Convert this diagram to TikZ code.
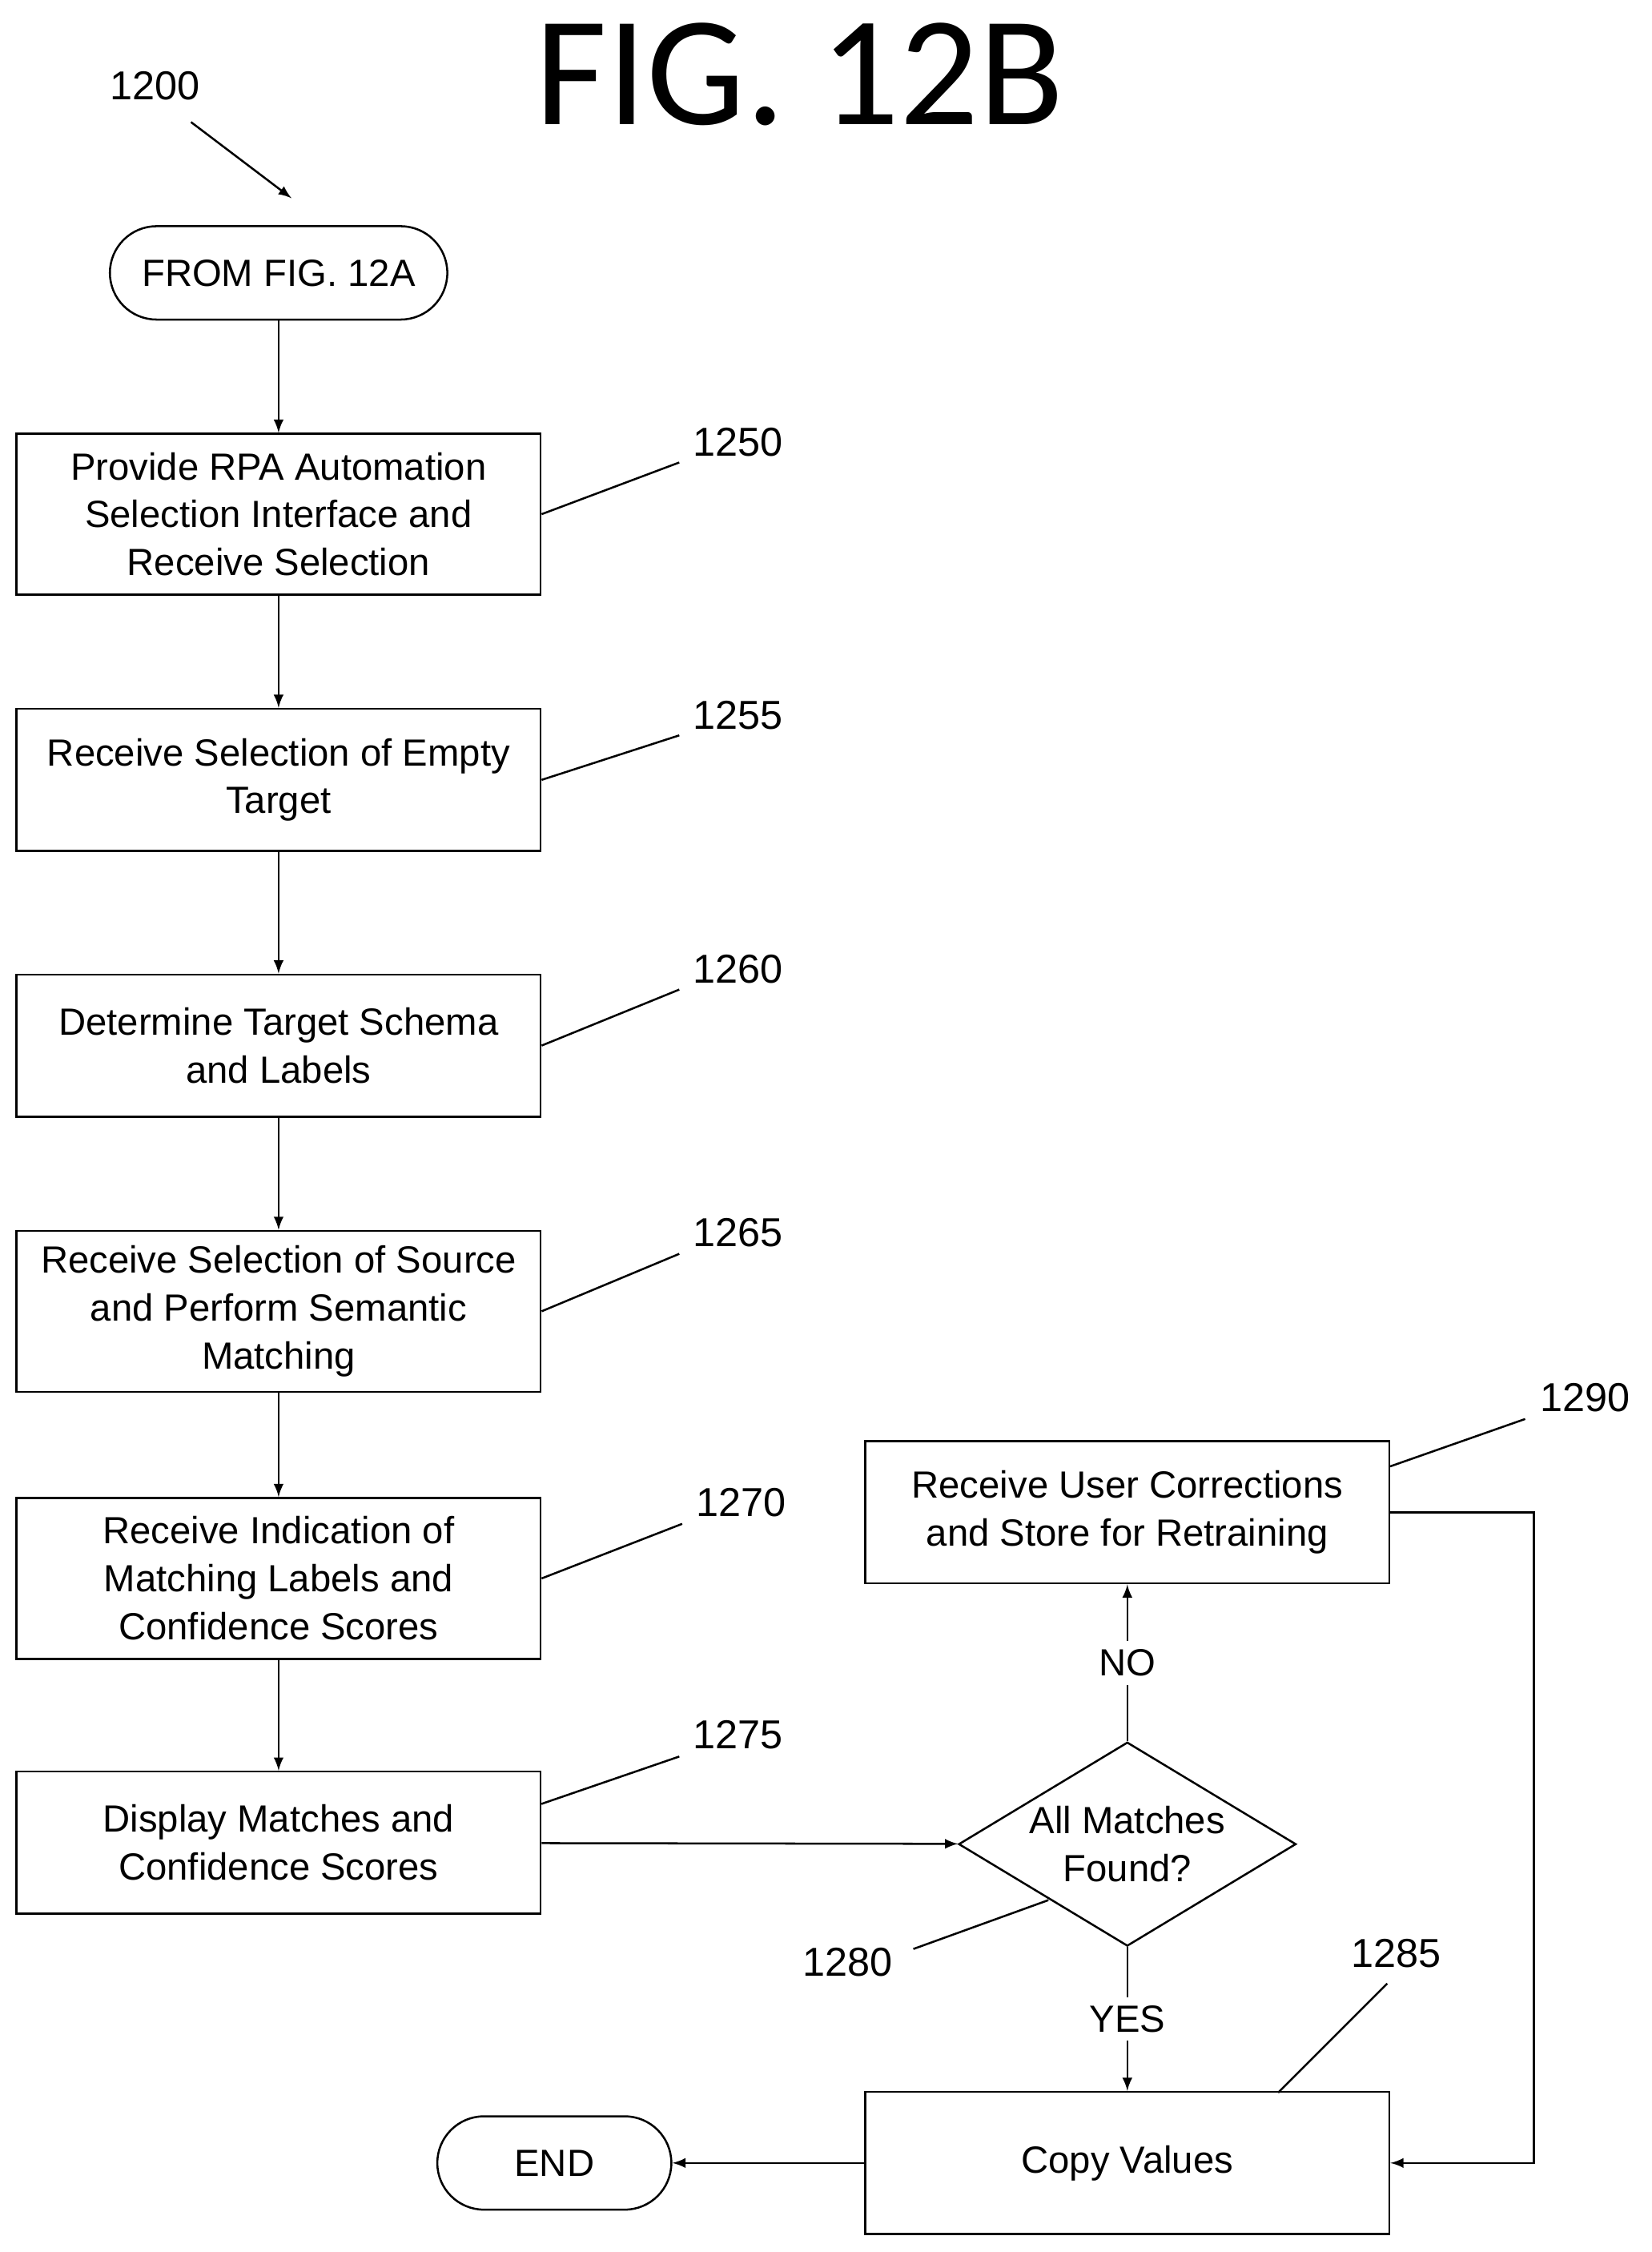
\documentclass[tikz,border=0pt]{standalone}
\usepackage{fontspec}
\setmainfont{Liberation Sans}
\newfontfamily\titlefont{Carlito}
\usetikzlibrary{shapes.geometric, positioning}
\tikzset{
  proc/.style={draw, thick, minimum width=7.3cm, align=center, font=\fontsize{15}{19}\selectfont},
  term/.style={draw, thick, rounded corners=0.65cm, minimum height=1.3cm, align=center, font=\fontsize{15}{19}\selectfont},
  dec/.style={draw, thick, diamond, aspect=1.65, minimum width=4.7cm, minimum height=2.84cm, inner sep=0pt, align=center, font=\fontsize{15}{19}\selectfont},
  ref/.style={font=\fontsize{16}{19}\selectfont},
  lead/.style={thick},
  flow/.style={thick, ->, >=latex}
}
\begin{document}
\begin{tikzpicture}[x=0.02cm, y=-0.02cm]
\useasboundingbox (0,0) rectangle (1150,1568);
        % Title and figure number
        \node[font=\titlefont\fontsize{62}{70}\selectfont] (title) at (557,52) {FIG. 12B};
        \node[ref] (n1200) at (108,60) {1200};
        \coordinate (p1200) at (203,138);
        \draw[flow] (133,85) -- (p1200);
        % Draw the steps
        \node[term, minimum width=4.7cm] (start) at (194,190) {FROM FIG. 12A};
        \node[proc, minimum height=2.24cm] (s1250) at (194,358) {Provide RPA Automation\\Selection Interface and\\Receive Selection};
        \node[proc, minimum height=1.98cm] (s1255) at (194,543) {Receive Selection of Empty\\Target};
        \node[proc, minimum height=1.98cm] (s1260) at (194,728) {Determine Target Schema\\and Labels};
        \node[proc, minimum height=2.24cm] (s1265) at (194,913) {Receive Selection of Source\\and Perform Semantic\\Matching};
        \node[proc, minimum height=2.24cm] (s1270) at (194,1099) {Receive Indication of\\Matching Labels and\\Confidence Scores};
        \node[proc, minimum height=1.98cm] (s1275) at (194,1283) {Display Matches and\\Confidence Scores};
        \node[dec] (d1280) at (785,1284) {All Matches\\Found?};
        \node[proc, minimum height=1.98cm] (s1290) at (785,1053) {Receive User Corrections\\and Store for Retraining};
        \node[proc, minimum height=1.98cm] (s1285) at (785,1506) {Copy Values};
        \node[term, minimum width=3.26cm] (end) at (386,1506) {END};
        % Reference numerals
        \node[ref] (n1250) at (514,308) {1250};
        \node[ref] (n1255) at (514,498) {1255};
        \node[ref] (n1260) at (514,675) {1260};
        \node[ref] (n1265) at (514,858) {1265};
        \node[ref] (n1270) at (516,1046) {1270};
        \node[ref] (n1275) at (514,1208) {1275};
        \node[ref] (n1280) at (590,1366) {1280};
        \node[ref] (n1285) at (972,1360) {1285};
        \node[ref] (n1290) at (1104,973) {1290};
        \draw[lead] (s1250.east) -- (473,322);
        \draw[lead] (s1255.east) -- (473,512);
        \draw[lead] (s1260.east) -- (473,689);
        \draw[lead] (s1265.east) -- (473,873);
        \draw[lead] (s1270.east) -- (475,1061);
        \draw[lead] (377,1256) -- (473,1223);
        \draw[lead] (636,1357) -- (730,1323);
        \draw[lead] (890,1457) -- (966,1381);
        \draw[lead] (968,1021) -- (1062,988);
        % Connect the steps
        \draw[flow] (start) -- (s1250);
        \draw[flow] (s1250) -- (s1255);
        \draw[flow] (s1255) -- (s1260);
        \draw[flow] (s1260) -- (s1265);
        \draw[flow] (s1265) -- (s1270);
        \draw[flow] (s1270) -- (s1275);
        \draw[flow] (s1275) -- (d1280);
        \draw[flow] (d1280) -- node[fill=white, font=\fontsize{15}{19}\selectfont] {NO} (s1290);
        \draw[flow] (d1280) -- node[fill=white, font=\fontsize{15}{19}\selectfont] {YES} (s1285);
        \draw[flow] (s1290.east) -- (1068,1053) |- (s1285.east);
        \draw[flow] (s1285) -- (end);
\end{tikzpicture}
\end{document}
